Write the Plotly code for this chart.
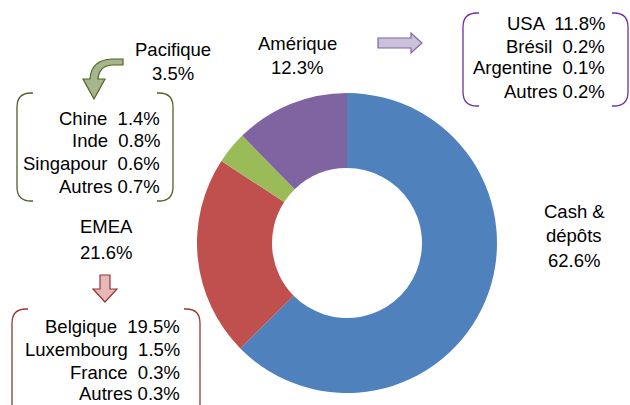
import plotly.graph_objects as go

W, H = 630, 405

segments = ["Cash &<br>dépôts", "EMEA", "Pacifique", "Amérique"]
shares = [62.6, 21.6, 3.5, 12.3]
seg_colors = ["#4F81BD", "#C0504D", "#9BBB59", "#8064A2"]

pac_names = ["Chine", "Inde", "Singapour", "Autres"]
pac_vals = ["1.4%", "0.8%", "0.6%", "0.7%"]
ame_names = ["USA", "Brésil", "Argentine", "Autres"]
ame_vals = ["11.8%", "0.2%", "0.1%", "0.2%"]
emea_names = ["Belgique", "Luxembourg", "France", "Autres"]
emea_vals = ["19.5%", "1.5%", "0.3%", "0.3%"]

FONT = "Liberation Sans"
FS = 18.5


def px(x):
    return x / W


def py(y):
    return 1 - y / H


cx, cy, r = 347, 243, 150

fig = go.Figure(go.Pie(
    labels=segments, values=shares, sort=False, direction="clockwise", rotation=0,
    hole=0.5, marker=dict(colors=seg_colors, line=dict(width=0)),
    textinfo="none", hoverinfo="label+value", showlegend=False,
    domain=dict(x=[px(cx - r), px(cx + r)], y=[py(cy + r), py(cy - r)]),
))

ann = []


def label(x, y, text, anchor="center"):
    ann.append(dict(x=px(x), y=py(y), xref="paper", yref="paper", text=text,
                    showarrow=False, xanchor=anchor, yanchor="middle",
                    font=dict(family=FONT, size=FS, color="#000000")))


# Main labels (from data)
label(173, 49, "Pacifique")
label(173, 73, f"{shares[2]}%")
label(297, 44, "Amérique")
label(297, 68, f"{shares[3]}%")
label(106, 227, "EMEA")
label(106, 252, f"{shares[1]}%")
label(574, 211, "Cash &")
label(574, 235, "dépôts")
label(574, 260, f"{shares[0]}%")


def block(xr, ys, names, vals):
    for y, n, v in zip(ys, names, vals):
        label(xr, y, f"{n}  {v}" if n != "Autres" else f"{n} {v}", anchor="right")


block(162, [118, 140, 163, 186], pac_names, pac_vals)
block(607, [23, 46, 68, 91], ame_names, ame_vals)
block(182, [326, 349, 372, 393], emea_names, emea_vals)

shapes = []


def P(x, y):
    return f"{px(x):.5f},{py(y):.5f}"


def bracket(x0, y0, x1, y1, color, rr=14):
    left = (f"M{P(x0 + rr + 2, y0)} L{P(x0 + rr, y0)} Q{P(x0, y0)} {P(x0, y0 + rr)} "
            f"L{P(x0, y1 - rr)} Q{P(x0, y1)} {P(x0 + rr, y1)} L{P(x0 + rr + 2, y1)}")
    right = (f"M{P(x1 - rr - 2, y0)} L{P(x1 - rr, y0)} Q{P(x1, y0)} {P(x1, y0 + rr)} "
             f"L{P(x1, y1 - rr)} Q{P(x1, y1)} {P(x1 - rr, y1)} L{P(x1 - rr - 2, y1)}")
    for p in (left, right):
        shapes.append(dict(type="path", xref="paper", yref="paper", path=p,
                           line=dict(color=color, width=1.3)))


bracket(17, 93, 173, 201, "#4F6228")
bracket(463, 13, 628, 106, "#7030A0")
bracket(12, 309, 200, 418, "#953735")

# Right arrow (Amérique)
ra = [(378, 38), (411, 38), (411, 33), (422, 43), (411, 53), (411, 48), (378, 48)]
shapes.append(dict(type="path", xref="paper", yref="paper",
                   path="M" + " L".join(P(x, y) for x, y in ra) + " Z",
                   fillcolor="#CCC1DA", line=dict(color="#8064A2", width=1.2)))

# Down arrow (EMEA)
da = [(100, 275), (110, 275), (110, 289), (117, 289), (105, 302), (93, 289), (100, 289)]
shapes.append(dict(type="path", xref="paper", yref="paper",
                   path="M" + " L".join(P(x, y) for x, y in da) + " Z",
                   fillcolor="#E6B9B8", line=dict(color="#953735", width=1.2)))

# Curved arrow (Pacifique)
ca = (f"M{P(123, 59)} L{P(112, 59)} Q{P(91, 60)} {P(90, 79)} "
      f"L{P(83, 79)} L{P(94, 99)} L{P(105, 79)} L{P(98, 79)} "
      f"Q{P(99, 66)} {P(112, 65)} L{P(123, 65)} Z")
shapes.append(dict(type="path", xref="paper", yref="paper", path=ca,
                   fillcolor="#A6B58C", line=dict(color="#4F6228", width=1.2)))

fig.update_layout(width=W, height=H, margin=dict(l=0, r=0, t=0, b=0),
                  paper_bgcolor="white", plot_bgcolor="white",
                  annotations=ann, shapes=shapes)

fig.write_html("out.html", config={"displayModeBar": False},
               post_script="document.body.style.margin='0';document.body.style.overflow='hidden';")
